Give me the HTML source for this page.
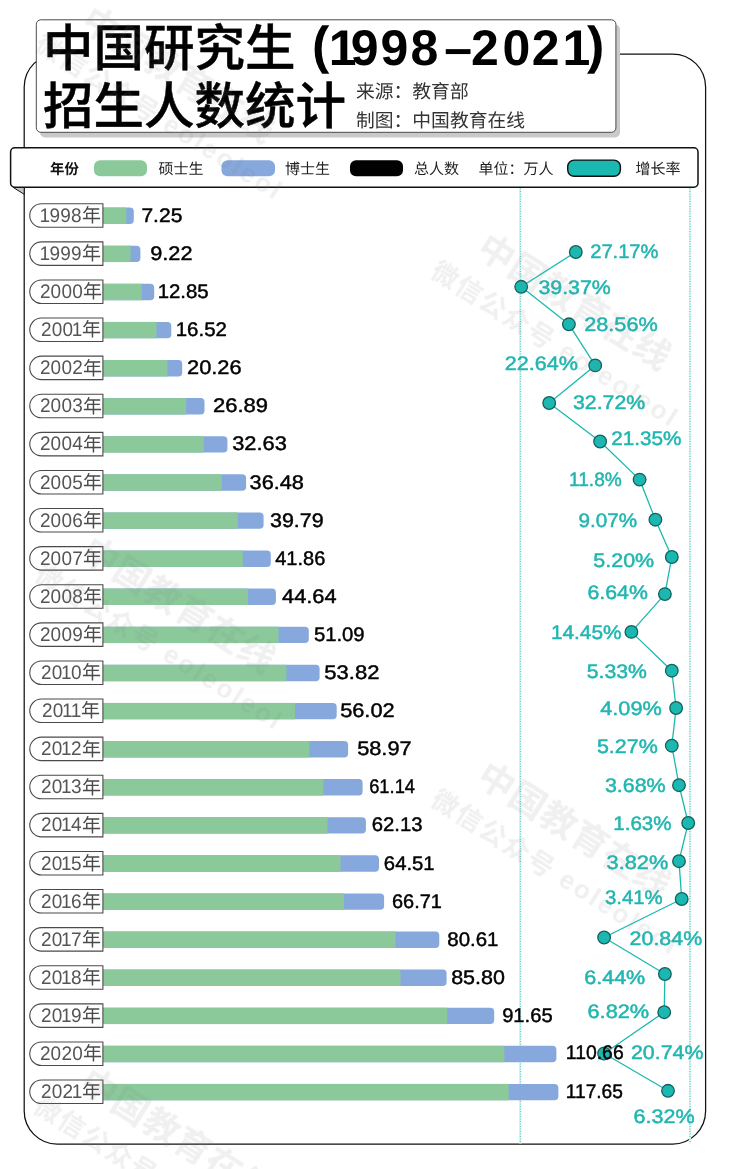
<!DOCTYPE html>
<html lang="zh"><head><meta charset="utf-8"><title>中国研究生（1998-2021）招生人数统计</title>
<style>
html,body{margin:0;padding:0;background:#fff}
body{width:730px;height:1169px;overflow:hidden;font-family:"Liberation Sans",sans-serif}
svg{display:block;font-family:"Liberation Sans","Noto Sans CJK SC",sans-serif}
text{text-rendering:geometricPrecision}
svg{will-change:transform;opacity:.9999}
</style></head><body>
<svg width="730" height="1169" viewBox="0 0 730 1169">
<rect x="24.2" y="54" width="681.4" height="1090" rx="33" fill="none" stroke="#111" stroke-width="1.25"/>
<line x1="520.3" y1="188" x2="520.3" y2="1143.5" stroke="#e2f6f5" stroke-width="2.2"/>
<line x1="520.3" y1="188.5" x2="520.3" y2="1143.5" stroke="#55c8c4" stroke-width="1.2" stroke-dasharray="1 1.5"/>
<line x1="690" y1="188" x2="690" y2="1143.5" stroke="#e2f6f5" stroke-width="2.2"/>
<line x1="690" y1="188.5" x2="690" y2="1143.5" stroke="#55c8c4" stroke-width="1.2" stroke-dasharray="1 1.5"/>
<rect x="40" y="24.5" width="580" height="113" rx="5" fill="#c9c9c9"/>
<rect x="36.3" y="19.8" width="579.6" height="112.5" rx="4.5" fill="#fff" stroke="#4a4a4a" stroke-width="1"/>
<text x="43" y="65.9" font-size="50.5" font-weight="500" fill="#000" stroke="#000" stroke-width="0.45" stroke-linejoin="round" font-family='"Liberation Sans","Noto Sans CJK SC",sans-serif'>中国研究生</text>
<text x="43" y="124.4" font-size="50.5" font-weight="500" fill="#000" stroke="#000" stroke-width="0.45" stroke-linejoin="round" font-family='"Liberation Sans","Noto Sans CJK SC",sans-serif'>招生人数统计</text>
<text x="312" y="63.38" font-size="52" font-weight="bold" fill="#000" font-family='"Liberation Sans",sans-serif'>(</text>
<text x="587" y="63.38" font-size="52" font-weight="bold" fill="#000" font-family='"Liberation Sans",sans-serif'>)</text>
<text y="64.8" x="328.72 350.84 380.43 410.49 444.2 471.03 502.42 531.86 562.6" font-size="50" font-weight="bold" fill="#000" font-family='"Liberation Sans",sans-serif'>1998–2021</text>
<text x="356" y="97.6" font-size="18.8" fill="#333" font-family='"Liberation Sans","Noto Sans CJK SC",sans-serif'>来源：教育部</text>
<text x="356" y="126.8" font-size="18.8" fill="#333" font-family='"Liberation Sans","Noto Sans CJK SC",sans-serif'>制图：中国教育在线</text>
<path d="M13.2 187.4 L24.2 187.4 L24.2 194.3 Z" fill="#c4c4c4" stroke="#111" stroke-width="1" stroke-linejoin="round"/>
<rect x="10.6" y="147.8" width="687.4" height="39.5" rx="4.2" fill="#fff" stroke="#111" stroke-width="1.5"/>
<text x="50" y="173.6" font-size="14.4" font-weight="bold" fill="#111" font-family='"Liberation Sans","Noto Sans CJK SC",sans-serif'>年份</text>
<rect x="94" y="160.3" width="53" height="16" rx="6" fill="#8bc99b"/>
<text x="158.5" y="173.8" font-size="15" fill="#222" font-family='"Liberation Sans","Noto Sans CJK SC",sans-serif'>硕士生</text>
<rect x="221.5" y="160.3" width="53.5" height="16" rx="6" fill="#86a8dc"/>
<text x="285" y="173.8" font-size="15" fill="#222" font-family='"Liberation Sans","Noto Sans CJK SC",sans-serif'>博士生</text>
<rect x="350" y="160.3" width="53" height="16" rx="6" fill="#000"/>
<text x="414" y="173.8" font-size="15" fill="#222" font-family='"Liberation Sans","Noto Sans CJK SC",sans-serif'>总人数</text>
<text x="478.4" y="173.8" font-size="15" fill="#222" font-family='"Liberation Sans","Noto Sans CJK SC",sans-serif'>单位：万人</text>
<rect x="567.7" y="160.1" width="52.7" height="16.2" rx="6.5" fill="#1bb8b1" stroke="#111" stroke-width="1.4"/>
<text x="635.6" y="173.8" font-size="15" fill="#222" font-family='"Liberation Sans","Noto Sans CJK SC",sans-serif'>增长率</text>
<path d="M103 207.6 H129.8 a4 4 0 0 1 4 4 V220 a4 4 0 0 1 -4 4 H103 Z" fill="#86a8dc"/>
<rect x="103" y="207.6" width="23.3" height="16.4" fill="#8bc99b"/>
<path d="M102.9 203.75 H41.5 a11.75 11.75 0 0 0 0 23.5 H102.9 Z" fill="#fff" stroke="#4a4a4a" stroke-width="1.1"/>
<text transform="translate(0 221.8) scale(0.97 1)" x="40.71 51.15 62.23 73.31" font-size="19.6" fill="#555">1998</text>
<text x="82.08" y="222.1" font-size="19" fill="#4a4a4a" font-family='"Liberation Sans","Noto Sans CJK SC",sans-serif'>年</text>
<path d="M103 245.7 H136.4 a4 4 0 0 1 4 4 V258.1 a4 4 0 0 1 -4 4 H103 Z" fill="#86a8dc"/>
<rect x="103" y="245.7" width="27.5" height="16.4" fill="#8bc99b"/>
<path d="M102.9 241.85 H41.5 a11.75 11.75 0 0 0 0 23.5 H102.9 Z" fill="#fff" stroke="#4a4a4a" stroke-width="1.1"/>
<text transform="translate(0 259.9) scale(0.97 1)" x="40.71 51.15 62.23 73.31" font-size="19.6" fill="#555">1999</text>
<text x="82.08" y="260.2" font-size="19" fill="#4a4a4a" font-family='"Liberation Sans","Noto Sans CJK SC",sans-serif'>年</text>
<path d="M103 283.8 H150.2 a4 4 0 0 1 4 4 V296.2 a4 4 0 0 1 -4 4 H103 Z" fill="#86a8dc"/>
<rect x="103" y="283.8" width="38.7" height="16.4" fill="#8bc99b"/>
<path d="M102.9 279.95 H41.5 a11.75 11.75 0 0 0 0 23.5 H102.9 Z" fill="#fff" stroke="#4a4a4a" stroke-width="1.1"/>
<text transform="translate(0 298) scale(0.97 1)" x="41.12 52.2 63.29 74.37" font-size="19.6" fill="#555">2000</text>
<text x="83.1" y="298.3" font-size="19" fill="#4a4a4a" font-family='"Liberation Sans","Noto Sans CJK SC",sans-serif'>年</text>
<path d="M103 321.9 H167.3 a4 4 0 0 1 4 4 V334.3 a4 4 0 0 1 -4 4 H103 Z" fill="#86a8dc"/>
<rect x="103" y="321.9" width="53.5" height="16.4" fill="#8bc99b"/>
<path d="M102.9 318.05 H41.5 a11.75 11.75 0 0 0 0 23.5 H102.9 Z" fill="#fff" stroke="#4a4a4a" stroke-width="1.1"/>
<text transform="translate(0 336.1) scale(0.97 1)" x="42.18 53.26 64.34 73.96" font-size="19.6" fill="#555">2001</text>
<text x="82.08" y="336.4" font-size="19" fill="#4a4a4a" font-family='"Liberation Sans","Noto Sans CJK SC",sans-serif'>年</text>
<path d="M103 360 H178.2 a4 4 0 0 1 4 4 V372.4 a4 4 0 0 1 -4 4 H103 Z" fill="#86a8dc"/>
<rect x="103" y="360" width="64.4" height="16.4" fill="#8bc99b"/>
<path d="M102.9 356.15 H41.5 a11.75 11.75 0 0 0 0 23.5 H102.9 Z" fill="#fff" stroke="#4a4a4a" stroke-width="1.1"/>
<text transform="translate(0 374.2) scale(0.97 1)" x="41.12 52.2 63.29 74.37" font-size="19.6" fill="#555">2002</text>
<text x="83.1" y="374.5" font-size="19" fill="#4a4a4a" font-family='"Liberation Sans","Noto Sans CJK SC",sans-serif'>年</text>
<path d="M103 398.1 H200.5 a4 4 0 0 1 4 4 V410.5 a4 4 0 0 1 -4 4 H103 Z" fill="#86a8dc"/>
<rect x="103" y="398.1" width="83.1" height="16.4" fill="#8bc99b"/>
<path d="M102.9 394.25 H41.5 a11.75 11.75 0 0 0 0 23.5 H102.9 Z" fill="#fff" stroke="#4a4a4a" stroke-width="1.1"/>
<text transform="translate(0 412.3) scale(0.97 1)" x="41.12 52.2 63.29 74.37" font-size="19.6" fill="#555">2003</text>
<text x="83.1" y="412.6" font-size="19" fill="#4a4a4a" font-family='"Liberation Sans","Noto Sans CJK SC",sans-serif'>年</text>
<path d="M103 436.2 H223.4 a4 4 0 0 1 4 4 V448.6 a4 4 0 0 1 -4 4 H103 Z" fill="#86a8dc"/>
<rect x="103" y="436.2" width="100.7" height="16.4" fill="#8bc99b"/>
<path d="M102.9 432.35 H41.5 a11.75 11.75 0 0 0 0 23.5 H102.9 Z" fill="#fff" stroke="#4a4a4a" stroke-width="1.1"/>
<text transform="translate(0 450.4) scale(0.97 1)" x="41.12 52.2 63.29 74.37" font-size="19.6" fill="#555">2004</text>
<text x="83.1" y="450.7" font-size="19" fill="#4a4a4a" font-family='"Liberation Sans","Noto Sans CJK SC",sans-serif'>年</text>
<path d="M103 474.3 H242.1 a4 4 0 0 1 4 4 V486.7 a4 4 0 0 1 -4 4 H103 Z" fill="#86a8dc"/>
<rect x="103" y="474.3" width="118.8" height="16.4" fill="#8bc99b"/>
<path d="M102.9 470.45 H41.5 a11.75 11.75 0 0 0 0 23.5 H102.9 Z" fill="#fff" stroke="#4a4a4a" stroke-width="1.1"/>
<text transform="translate(0 488.5) scale(0.97 1)" x="41.12 52.2 63.29 74.37" font-size="19.6" fill="#555">2005</text>
<text x="83.1" y="488.8" font-size="19" fill="#4a4a4a" font-family='"Liberation Sans","Noto Sans CJK SC",sans-serif'>年</text>
<path d="M103 512.4 H259.6 a4 4 0 0 1 4 4 V524.8 a4 4 0 0 1 -4 4 H103 Z" fill="#86a8dc"/>
<rect x="103" y="512.4" width="134.9" height="16.4" fill="#8bc99b"/>
<path d="M102.9 508.55 H41.5 a11.75 11.75 0 0 0 0 23.5 H102.9 Z" fill="#fff" stroke="#4a4a4a" stroke-width="1.1"/>
<text transform="translate(0 526.6) scale(0.97 1)" x="41.12 52.2 63.29 74.37" font-size="19.6" fill="#555">2006</text>
<text x="83.1" y="526.9" font-size="19" fill="#4a4a4a" font-family='"Liberation Sans","Noto Sans CJK SC",sans-serif'>年</text>
<path d="M103 550.5 H266.8 a4 4 0 0 1 4 4 V562.9 a4 4 0 0 1 -4 4 H103 Z" fill="#86a8dc"/>
<rect x="103" y="550.5" width="139.8" height="16.4" fill="#8bc99b"/>
<path d="M102.9 546.65 H41.5 a11.75 11.75 0 0 0 0 23.5 H102.9 Z" fill="#fff" stroke="#4a4a4a" stroke-width="1.1"/>
<text transform="translate(0 564.7) scale(0.97 1)" x="41.12 52.2 63.29 74.37" font-size="19.6" fill="#555">2007</text>
<text x="83.1" y="565" font-size="19" fill="#4a4a4a" font-family='"Liberation Sans","Noto Sans CJK SC",sans-serif'>年</text>
<path d="M103 588.6 H271.9 a4 4 0 0 1 4 4 V601 a4 4 0 0 1 -4 4 H103 Z" fill="#86a8dc"/>
<rect x="103" y="588.6" width="144.9" height="16.4" fill="#8bc99b"/>
<path d="M102.9 584.75 H41.5 a11.75 11.75 0 0 0 0 23.5 H102.9 Z" fill="#fff" stroke="#4a4a4a" stroke-width="1.1"/>
<text transform="translate(0 602.8) scale(0.97 1)" x="41.12 52.2 63.29 74.37" font-size="19.6" fill="#555">2008</text>
<text x="83.1" y="603.1" font-size="19" fill="#4a4a4a" font-family='"Liberation Sans","Noto Sans CJK SC",sans-serif'>年</text>
<path d="M103 626.7 H304.8 a4 4 0 0 1 4 4 V639.1 a4 4 0 0 1 -4 4 H103 Z" fill="#86a8dc"/>
<rect x="103" y="626.7" width="175.5" height="16.4" fill="#8bc99b"/>
<path d="M102.9 622.85 H41.5 a11.75 11.75 0 0 0 0 23.5 H102.9 Z" fill="#fff" stroke="#4a4a4a" stroke-width="1.1"/>
<text transform="translate(0 640.9) scale(0.97 1)" x="41.12 52.2 63.29 74.37" font-size="19.6" fill="#555">2009</text>
<text x="83.1" y="641.2" font-size="19" fill="#4a4a4a" font-family='"Liberation Sans","Noto Sans CJK SC",sans-serif'>年</text>
<path d="M103 664.8 H315.6 a4 4 0 0 1 4 4 V677.2 a4 4 0 0 1 -4 4 H103 Z" fill="#86a8dc"/>
<rect x="103" y="664.8" width="183.4" height="16.4" fill="#8bc99b"/>
<path d="M102.9 660.95 H41.5 a11.75 11.75 0 0 0 0 23.5 H102.9 Z" fill="#fff" stroke="#4a4a4a" stroke-width="1.1"/>
<text transform="translate(0 679) scale(0.97 1)" x="42.18 53.26 62.87 73.31" font-size="19.6" fill="#555">2010</text>
<text x="82.08" y="679.3" font-size="19" fill="#4a4a4a" font-family='"Liberation Sans","Noto Sans CJK SC",sans-serif'>年</text>
<path d="M103 702.9 H332.7 a4 4 0 0 1 4 4 V715.3 a4 4 0 0 1 -4 4 H103 Z" fill="#86a8dc"/>
<rect x="103" y="702.9" width="192" height="16.4" fill="#8bc99b"/>
<path d="M102.9 699.05 H41.5 a11.75 11.75 0 0 0 0 23.5 H102.9 Z" fill="#fff" stroke="#4a4a4a" stroke-width="1.1"/>
<text transform="translate(0 717.1) scale(0.97 1)" x="43.23 54.32 63.93 72.9" font-size="19.6" fill="#555">2011</text>
<text x="81.05" y="717.4" font-size="19" fill="#4a4a4a" font-family='"Liberation Sans","Noto Sans CJK SC",sans-serif'>年</text>
<path d="M103 741 H344.1 a4 4 0 0 1 4 4 V753.4 a4 4 0 0 1 -4 4 H103 Z" fill="#86a8dc"/>
<rect x="103" y="741" width="206.3" height="16.4" fill="#8bc99b"/>
<path d="M102.9 737.15 H41.5 a11.75 11.75 0 0 0 0 23.5 H102.9 Z" fill="#fff" stroke="#4a4a4a" stroke-width="1.1"/>
<text transform="translate(0 755.2) scale(0.97 1)" x="42.18 53.26 62.87 73.31" font-size="19.6" fill="#555">2012</text>
<text x="82.08" y="755.5" font-size="19" fill="#4a4a4a" font-family='"Liberation Sans","Noto Sans CJK SC",sans-serif'>年</text>
<path d="M103 779.1 H358.6 a4 4 0 0 1 4 4 V791.5 a4 4 0 0 1 -4 4 H103 Z" fill="#86a8dc"/>
<rect x="103" y="779.1" width="220.4" height="16.4" fill="#8bc99b"/>
<path d="M102.9 775.25 H41.5 a11.75 11.75 0 0 0 0 23.5 H102.9 Z" fill="#fff" stroke="#4a4a4a" stroke-width="1.1"/>
<text transform="translate(0 793.3) scale(0.97 1)" x="42.18 53.26 62.87 73.31" font-size="19.6" fill="#555">2013</text>
<text x="82.08" y="793.6" font-size="19" fill="#4a4a4a" font-family='"Liberation Sans","Noto Sans CJK SC",sans-serif'>年</text>
<path d="M103 817.2 H361.9 a4 4 0 0 1 4 4 V829.6 a4 4 0 0 1 -4 4 H103 Z" fill="#86a8dc"/>
<rect x="103" y="817.2" width="224.4" height="16.4" fill="#8bc99b"/>
<path d="M102.9 813.35 H41.5 a11.75 11.75 0 0 0 0 23.5 H102.9 Z" fill="#fff" stroke="#4a4a4a" stroke-width="1.1"/>
<text transform="translate(0 831.4) scale(0.97 1)" x="42.18 53.26 62.87 73.31" font-size="19.6" fill="#555">2014</text>
<text x="82.08" y="831.7" font-size="19" fill="#4a4a4a" font-family='"Liberation Sans","Noto Sans CJK SC",sans-serif'>年</text>
<path d="M103 855.3 H375 a4 4 0 0 1 4 4 V867.7 a4 4 0 0 1 -4 4 H103 Z" fill="#86a8dc"/>
<rect x="103" y="855.3" width="237.5" height="16.4" fill="#8bc99b"/>
<path d="M102.9 851.45 H41.5 a11.75 11.75 0 0 0 0 23.5 H102.9 Z" fill="#fff" stroke="#4a4a4a" stroke-width="1.1"/>
<text transform="translate(0 869.5) scale(0.97 1)" x="42.18 53.26 62.87 73.31" font-size="19.6" fill="#555">2015</text>
<text x="82.08" y="869.8" font-size="19" fill="#4a4a4a" font-family='"Liberation Sans","Noto Sans CJK SC",sans-serif'>年</text>
<path d="M103 893.4 H380.1 a4 4 0 0 1 4 4 V905.8 a4 4 0 0 1 -4 4 H103 Z" fill="#86a8dc"/>
<rect x="103" y="893.4" width="241" height="16.4" fill="#8bc99b"/>
<path d="M102.9 889.55 H41.5 a11.75 11.75 0 0 0 0 23.5 H102.9 Z" fill="#fff" stroke="#4a4a4a" stroke-width="1.1"/>
<text transform="translate(0 907.6) scale(0.97 1)" x="42.18 53.26 62.87 73.31" font-size="19.6" fill="#555">2016</text>
<text x="82.08" y="907.9" font-size="19" fill="#4a4a4a" font-family='"Liberation Sans","Noto Sans CJK SC",sans-serif'>年</text>
<path d="M103 931.5 H435.3 a4 4 0 0 1 4 4 V943.9 a4 4 0 0 1 -4 4 H103 Z" fill="#86a8dc"/>
<rect x="103" y="931.5" width="292.6" height="16.4" fill="#8bc99b"/>
<path d="M102.9 927.65 H41.5 a11.75 11.75 0 0 0 0 23.5 H102.9 Z" fill="#fff" stroke="#4a4a4a" stroke-width="1.1"/>
<text transform="translate(0 945.7) scale(0.97 1)" x="42.18 53.26 62.87 73.31" font-size="19.6" fill="#555">2017</text>
<text x="82.08" y="946" font-size="19" fill="#4a4a4a" font-family='"Liberation Sans","Noto Sans CJK SC",sans-serif'>年</text>
<path d="M103 969.6 H442.6 a4 4 0 0 1 4 4 V982 a4 4 0 0 1 -4 4 H103 Z" fill="#86a8dc"/>
<rect x="103" y="969.6" width="297.5" height="16.4" fill="#8bc99b"/>
<path d="M102.9 965.75 H41.5 a11.75 11.75 0 0 0 0 23.5 H102.9 Z" fill="#fff" stroke="#4a4a4a" stroke-width="1.1"/>
<text transform="translate(0 983.8) scale(0.97 1)" x="42.18 53.26 62.87 73.31" font-size="19.6" fill="#555">2018</text>
<text x="82.08" y="984.1" font-size="19" fill="#4a4a4a" font-family='"Liberation Sans","Noto Sans CJK SC",sans-serif'>年</text>
<path d="M103 1007.7 H490.2 a4 4 0 0 1 4 4 V1020.1 a4 4 0 0 1 -4 4 H103 Z" fill="#86a8dc"/>
<rect x="103" y="1007.7" width="344.2" height="16.4" fill="#8bc99b"/>
<path d="M102.9 1003.85 H41.5 a11.75 11.75 0 0 0 0 23.5 H102.9 Z" fill="#fff" stroke="#4a4a4a" stroke-width="1.1"/>
<text transform="translate(0 1021.9) scale(0.97 1)" x="42.18 53.26 62.87 73.31" font-size="19.6" fill="#555">2019</text>
<text x="82.08" y="1022.2" font-size="19" fill="#4a4a4a" font-family='"Liberation Sans","Noto Sans CJK SC",sans-serif'>年</text>
<path d="M103 1045.8 H552.4 a4 4 0 0 1 4 4 V1058.2 a4 4 0 0 1 -4 4 H103 Z" fill="#86a8dc"/>
<rect x="103" y="1045.8" width="401.4" height="16.4" fill="#8bc99b"/>
<path d="M102.9 1041.95 H41.5 a11.75 11.75 0 0 0 0 23.5 H102.9 Z" fill="#fff" stroke="#4a4a4a" stroke-width="1.1"/>
<text transform="translate(0 1060) scale(0.97 1)" x="41.12 52.2 63.29 74.37" font-size="19.6" fill="#555">2020</text>
<text x="83.1" y="1060.3" font-size="19" fill="#4a4a4a" font-family='"Liberation Sans","Noto Sans CJK SC",sans-serif'>年</text>
<path d="M103 1083.9 H554.4 a4 4 0 0 1 4 4 V1096.3 a4 4 0 0 1 -4 4 H103 Z" fill="#86a8dc"/>
<rect x="103" y="1083.9" width="405.7" height="16.4" fill="#8bc99b"/>
<path d="M102.9 1080.05 H41.5 a11.75 11.75 0 0 0 0 23.5 H102.9 Z" fill="#fff" stroke="#4a4a4a" stroke-width="1.1"/>
<text transform="translate(0 1098.1) scale(0.97 1)" x="42.18 53.26 64.34 73.96" font-size="19.6" fill="#555">2021</text>
<text x="82.08" y="1098.4" font-size="19" fill="#4a4a4a" font-family='"Liberation Sans","Noto Sans CJK SC",sans-serif'>年</text>
<polyline points="575.8,252 521.2,286.8 568.9,324.3 595.2,365.4 549.2,403 600.1,441.5 639.6,479.6 655.4,519.7 671.8,557 664.9,594.1 631.4,631.9 671.8,670.7 676.1,708 671.8,745.7 679,785.2 688.2,823 679,861.2 681.7,899 604.1,937.5 664.9,974 664.2,1012.2 604.1,1053.5 668,1090.8" fill="none" stroke="#1bb8b1" stroke-width="1.3" stroke-linejoin="round"/>
<circle cx="575.8" cy="252" r="6.3" fill="#1bb8b1" stroke="#17605d" stroke-width="1.3"/>
<circle cx="521.2" cy="286.8" r="6.3" fill="#1bb8b1" stroke="#17605d" stroke-width="1.3"/>
<circle cx="568.9" cy="324.3" r="6.3" fill="#1bb8b1" stroke="#17605d" stroke-width="1.3"/>
<circle cx="595.2" cy="365.4" r="6.3" fill="#1bb8b1" stroke="#17605d" stroke-width="1.3"/>
<circle cx="549.2" cy="403" r="6.3" fill="#1bb8b1" stroke="#17605d" stroke-width="1.3"/>
<circle cx="600.1" cy="441.5" r="6.3" fill="#1bb8b1" stroke="#17605d" stroke-width="1.3"/>
<circle cx="639.6" cy="479.6" r="6.3" fill="#1bb8b1" stroke="#17605d" stroke-width="1.3"/>
<circle cx="655.4" cy="519.7" r="6.3" fill="#1bb8b1" stroke="#17605d" stroke-width="1.3"/>
<circle cx="671.8" cy="557" r="6.3" fill="#1bb8b1" stroke="#17605d" stroke-width="1.3"/>
<circle cx="664.9" cy="594.1" r="6.3" fill="#1bb8b1" stroke="#17605d" stroke-width="1.3"/>
<circle cx="631.4" cy="631.9" r="6.3" fill="#1bb8b1" stroke="#17605d" stroke-width="1.3"/>
<circle cx="671.8" cy="670.7" r="6.3" fill="#1bb8b1" stroke="#17605d" stroke-width="1.3"/>
<circle cx="676.1" cy="708" r="6.3" fill="#1bb8b1" stroke="#17605d" stroke-width="1.3"/>
<circle cx="671.8" cy="745.7" r="6.3" fill="#1bb8b1" stroke="#17605d" stroke-width="1.3"/>
<circle cx="679" cy="785.2" r="6.3" fill="#1bb8b1" stroke="#17605d" stroke-width="1.3"/>
<circle cx="688.2" cy="823" r="6.3" fill="#1bb8b1" stroke="#17605d" stroke-width="1.3"/>
<circle cx="679" cy="861.2" r="6.3" fill="#1bb8b1" stroke="#17605d" stroke-width="1.3"/>
<circle cx="681.7" cy="899" r="6.3" fill="#1bb8b1" stroke="#17605d" stroke-width="1.3"/>
<circle cx="604.1" cy="937.5" r="6.3" fill="#1bb8b1" stroke="#17605d" stroke-width="1.3"/>
<circle cx="664.9" cy="974" r="6.3" fill="#1bb8b1" stroke="#17605d" stroke-width="1.3"/>
<circle cx="664.2" cy="1012.2" r="6.3" fill="#1bb8b1" stroke="#17605d" stroke-width="1.3"/>
<circle cx="604.1" cy="1053.5" r="6.3" fill="#1bb8b1" stroke="#17605d" stroke-width="1.3"/>
<circle cx="668" cy="1090.8" r="6.3" fill="#1bb8b1" stroke="#17605d" stroke-width="1.3"/>
<text transform="translate(590.19 258.4) scale(1.0316 1)" font-size="19.5" fill="#22b6b1" stroke="#22b6b1" stroke-width="0.5" stroke-linejoin="round">27.17%</text>
<text transform="translate(538.49 293.9) scale(1.0928 1)" font-size="19.5" fill="#22b6b1" stroke="#22b6b1" stroke-width="0.5" stroke-linejoin="round">39.37%</text>
<text transform="translate(584.21 330.7) scale(1.1123 1)" font-size="19.5" fill="#22b6b1" stroke="#22b6b1" stroke-width="0.5" stroke-linejoin="round">28.56%</text>
<text transform="translate(504.72 370.1) scale(1.1061 1)" font-size="19.5" fill="#22b6b1" stroke="#22b6b1" stroke-width="0.5" stroke-linejoin="round">22.64%</text>
<text transform="translate(572.99 408.8) scale(1.0928 1)" font-size="19.5" fill="#22b6b1" stroke="#22b6b1" stroke-width="0.5" stroke-linejoin="round">32.72%</text>
<text transform="translate(611.26 444.9) scale(1.0611 1)" font-size="19.5" fill="#22b6b1" stroke="#22b6b1" stroke-width="0.5" stroke-linejoin="round">21.35%</text>
<text transform="translate(569.05 486) scale(0.9791 1)" font-size="19.5" fill="#22b6b1" stroke="#22b6b1" stroke-width="0.5" stroke-linejoin="round">11.8%</text>
<text transform="translate(578.43 527.1) scale(1.0599 1)" font-size="19.5" fill="#22b6b1" stroke="#22b6b1" stroke-width="0.5" stroke-linejoin="round">9.07%</text>
<text transform="translate(593.34 566.6) scale(1.1001 1)" font-size="19.5" fill="#22b6b1" stroke="#22b6b1" stroke-width="0.5" stroke-linejoin="round">5.20%</text>
<text transform="translate(587.52 598.9) scale(1.0913 1)" font-size="19.5" fill="#22b6b1" stroke="#22b6b1" stroke-width="0.5" stroke-linejoin="round">6.64%</text>
<text transform="translate(550.91 639) scale(1.0679 1)" font-size="19.5" fill="#22b6b1" stroke="#22b6b1" stroke-width="0.5" stroke-linejoin="round">14.45%</text>
<text transform="translate(586.75 678.4) scale(1.0870 1)" font-size="19.5" fill="#22b6b1" stroke="#22b6b1" stroke-width="0.5" stroke-linejoin="round">5.33%</text>
<text transform="translate(600.3 715.4) scale(1.1099 1)" font-size="19.5" fill="#22b6b1" stroke="#22b6b1" stroke-width="0.5" stroke-linejoin="round">4.09%</text>
<text transform="translate(596.94 753.1) scale(1.1001 1)" font-size="19.5" fill="#22b6b1" stroke="#22b6b1" stroke-width="0.5" stroke-linejoin="round">5.27%</text>
<text transform="translate(604.88 791.6) scale(1.0993 1)" font-size="19.5" fill="#22b6b1" stroke="#22b6b1" stroke-width="0.5" stroke-linejoin="round">3.68%</text>
<text transform="translate(613.34 830.1) scale(1.0525 1)" font-size="19.5" fill="#22b6b1" stroke="#22b6b1" stroke-width="0.5" stroke-linejoin="round">1.63%</text>
<text transform="translate(606.57 869.3) scale(1.1160 1)" font-size="19.5" fill="#22b6b1" stroke="#22b6b1" stroke-width="0.5" stroke-linejoin="round">3.82%</text>
<text transform="translate(604.92 904.4) scale(1.0436 1)" font-size="19.5" fill="#22b6b1" stroke="#22b6b1" stroke-width="0.5" stroke-linejoin="round">3.41%</text>
<text transform="translate(629.62 944.9) scale(1.0968 1)" font-size="19.5" fill="#22b6b1" stroke="#22b6b1" stroke-width="0.5" stroke-linejoin="round">20.84%</text>
<text transform="translate(584.21 984.4) scale(1.1044 1)" font-size="19.5" fill="#22b6b1" stroke="#22b6b1" stroke-width="0.5" stroke-linejoin="round">6.44%</text>
<text transform="translate(587.5 1017.6) scale(1.1155 1)" font-size="19.5" fill="#22b6b1" stroke="#22b6b1" stroke-width="0.5" stroke-linejoin="round">6.82%</text>
<text transform="translate(630.92 1058.7) scale(1.0968 1)" font-size="19.5" fill="#22b6b1" stroke="#22b6b1" stroke-width="0.5" stroke-linejoin="round">20.74%</text>
<text transform="translate(633.51 1123.4) scale(1.1044 1)" font-size="19.5" fill="#22b6b1" stroke="#22b6b1" stroke-width="0.5" stroke-linejoin="round">6.32%</text>
<text transform="translate(141.42 221.8) scale(1.0684 1)" font-size="19.7" fill="#000" stroke="#000" stroke-width="0.45" stroke-linejoin="round">7.25</text>
<text transform="translate(150.18 259.9) scale(1.1036 1)" font-size="19.7" fill="#000" stroke="#000" stroke-width="0.45" stroke-linejoin="round">9.22</text>
<text transform="translate(157.65 298) scale(1.0347 1)" font-size="19.7" fill="#000" stroke="#000" stroke-width="0.45" stroke-linejoin="round">12.85</text>
<text transform="translate(175.74 336.1) scale(1.0383 1)" font-size="19.7" fill="#000" stroke="#000" stroke-width="0.45" stroke-linejoin="round">16.52</text>
<text transform="translate(187 374.2) scale(1.1087 1)" font-size="19.7" fill="#000" stroke="#000" stroke-width="0.45" stroke-linejoin="round">20.26</text>
<text transform="translate(212.99 412.3) scale(1.1166 1)" font-size="19.7" fill="#000" stroke="#000" stroke-width="0.45" stroke-linejoin="round">26.89</text>
<text transform="translate(232.17 450.4) scale(1.1094 1)" font-size="19.7" fill="#000" stroke="#000" stroke-width="0.45" stroke-linejoin="round">32.63</text>
<text transform="translate(249.57 488.5) scale(1.1029 1)" font-size="19.7" fill="#000" stroke="#000" stroke-width="0.45" stroke-linejoin="round">36.48</text>
<text transform="translate(269.98 526.6) scale(1.0900 1)" font-size="19.7" fill="#000" stroke="#000" stroke-width="0.45" stroke-linejoin="round">39.79</text>
<text transform="translate(275.24 564.7) scale(1.0150 1)" font-size="19.7" fill="#000" stroke="#000" stroke-width="0.45" stroke-linejoin="round">41.86</text>
<text transform="translate(282 602.8) scale(1.1084 1)" font-size="19.7" fill="#000" stroke="#000" stroke-width="0.45" stroke-linejoin="round">44.64</text>
<text transform="translate(313.89 640.9) scale(1.0299 1)" font-size="19.7" fill="#000" stroke="#000" stroke-width="0.45" stroke-linejoin="round">51.09</text>
<text transform="translate(324.32 679) scale(1.1196 1)" font-size="19.7" fill="#000" stroke="#000" stroke-width="0.45" stroke-linejoin="round">53.82</text>
<text transform="translate(340.13 717.1) scale(1.1069 1)" font-size="19.7" fill="#000" stroke="#000" stroke-width="0.45" stroke-linejoin="round">56.02</text>
<text transform="translate(357.13 755.2) scale(1.1069 1)" font-size="19.7" fill="#000" stroke="#000" stroke-width="0.45" stroke-linejoin="round">58.97</text>
<text transform="translate(369.17 793.3) scale(0.9304 1)" font-size="19.7" fill="#000" stroke="#000" stroke-width="0.45" stroke-linejoin="round">61.14</text>
<text transform="translate(371.77 831.4) scale(1.0309 1)" font-size="19.7" fill="#000" stroke="#000" stroke-width="0.45" stroke-linejoin="round">62.13</text>
<text transform="translate(383.87 869.5) scale(1.0288 1)" font-size="19.7" fill="#000" stroke="#000" stroke-width="0.45" stroke-linejoin="round">64.51</text>
<text transform="translate(391.99 907.6) scale(1.0140 1)" font-size="19.7" fill="#000" stroke="#000" stroke-width="0.45" stroke-linejoin="round">66.71</text>
<text transform="translate(447.31 945.7) scale(1.0383 1)" font-size="19.7" fill="#000" stroke="#000" stroke-width="0.45" stroke-linejoin="round">80.61</text>
<text transform="translate(451.17 983.8) scale(1.0908 1)" font-size="19.7" fill="#000" stroke="#000" stroke-width="0.45" stroke-linejoin="round">85.80</text>
<text transform="translate(502.15 1021.9) scale(1.0242 1)" font-size="19.7" fill="#000" stroke="#000" stroke-width="0.45" stroke-linejoin="round">91.65</text>
<text transform="translate(565.82 1059.3) scale(0.9847 1)" font-size="19.7" fill="#000" stroke="#000" stroke-width="0.45" stroke-linejoin="round">110.66</text>
<text transform="translate(565.74 1098.1) scale(0.9736 1)" font-size="19.7" fill="#000" stroke="#000" stroke-width="0.45" stroke-linejoin="round">117.65</text>
<g fill="#808080" opacity="0.125">
<g transform="translate(496.8 252.4) rotate(32.3)"><text x="-18" y="13.2" font-size="36" font-weight="bold" letter-spacing="0.8" font-family='"Liberation Sans","Noto Sans CJK SC",sans-serif'>中国教育在线</text><text x="-44.7" y="55.9" font-size="26.5" font-weight="bold" letter-spacing="1.7" font-family='"Liberation Sans","Noto Sans CJK SC",sans-serif'>微信公众号</text><text x="106" y="55.3" font-size="26" font-weight="bold" letter-spacing="2.6">eoleoleol</text></g>
<g transform="translate(496.8 780.7) rotate(32.3)"><text x="-18" y="13.2" font-size="36" font-weight="bold" letter-spacing="0.8" font-family='"Liberation Sans","Noto Sans CJK SC",sans-serif'>中国教育在线</text><text x="-44.7" y="55.9" font-size="26.5" font-weight="bold" letter-spacing="1.7" font-family='"Liberation Sans","Noto Sans CJK SC",sans-serif'>微信公众号</text><text x="106" y="55.3" font-size="26" font-weight="bold" letter-spacing="2.6">eoleoleol</text></g>
<g transform="translate(101 25.5) rotate(32.3)"><text x="-18" y="13.2" font-size="36" font-weight="bold" letter-spacing="0.8" font-family='"Liberation Sans","Noto Sans CJK SC",sans-serif'>中国教育在线</text><text x="-44.7" y="55.9" font-size="26.5" font-weight="bold" letter-spacing="1.7" font-family='"Liberation Sans","Noto Sans CJK SC",sans-serif'>微信公众号</text><text x="106" y="55.3" font-size="26" font-weight="bold" letter-spacing="2.6">eoleoleol</text></g>
<g transform="translate(101 555.5) rotate(32.3)"><text x="-18" y="13.2" font-size="36" font-weight="bold" letter-spacing="0.8" font-family='"Liberation Sans","Noto Sans CJK SC",sans-serif'>中国教育在线</text><text x="-44.7" y="55.9" font-size="26.5" font-weight="bold" letter-spacing="1.7" font-family='"Liberation Sans","Noto Sans CJK SC",sans-serif'>微信公众号</text><text x="106" y="55.3" font-size="26" font-weight="bold" letter-spacing="2.6">eoleoleol</text></g>
<g transform="translate(99.5 1087) rotate(32.3)"><text x="-18" y="13.2" font-size="36" font-weight="bold" letter-spacing="0.8" font-family='"Liberation Sans","Noto Sans CJK SC",sans-serif'>中国教育在线</text><text x="-44.7" y="55.9" font-size="26.5" font-weight="bold" letter-spacing="1.7" font-family='"Liberation Sans","Noto Sans CJK SC",sans-serif'>微信公众号</text><text x="106" y="55.3" font-size="26" font-weight="bold" letter-spacing="2.6">eoleoleol</text></g>
</g>
</svg>
</body></html>
